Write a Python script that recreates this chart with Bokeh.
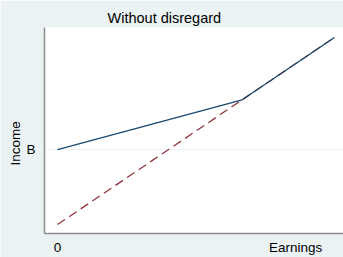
from bokeh.plotting import figure
from bokeh.models import Range1d, FixedTicker, Title
from bokeh.embed import file_html
from bokeh.resources import INLINE

# Data
earnings = [0, 2, 3]
income_with_benefit = [1.2, 2, 3]   # solid: starts at B
income_no_benefit = [0, 2, 3]       # dashed: earnings only
B = 1.2
x_ticks = [0, 2.58]
x_tick_labels = ["0", "Earnings"]
y_ticks = [B]
y_tick_labels = ["B"]
title_text = "Without disregard"
ylabel_text = "Income"

FONT = "Liberation Sans"
BG = "#EAF2F3"

p = figure(width=343, height=257, output_backend="svg", toolbar_location=None,
           x_range=Range1d(-0.141, 3.098), y_range=Range1d(-0.143, 3.159),
           min_border_left=44, min_border_right=0, min_border_top=27, min_border_bottom=22)
p.border_fill_color = BG
p.background_fill_color = "white"
p.outline_line_color = None

p.line(earnings, income_no_benefit, line_color="#90353B", line_width=1.3, line_dash="9 5")
p.line(earnings, income_with_benefit, line_color="#1A476F", line_width=1.3)

p.xaxis.ticker = FixedTicker(ticks=x_ticks)
p.xaxis.major_label_overrides = {x_ticks[i]: x_tick_labels[i] for i in range(len(x_ticks))}
p.yaxis.ticker = FixedTicker(ticks=y_ticks)
p.yaxis.major_label_overrides = {y_ticks[i]: y_tick_labels[i] for i in range(len(y_ticks))}
p.yaxis.major_label_orientation = "horizontal"

for ax in (p.xaxis, p.yaxis):
    ax.axis_line_color = "#8c8c8c"
    ax.axis_line_width = 1.5
    ax.major_tick_in = 0
    ax.major_tick_out = 0
    ax.minor_tick_line_color = None
    ax.major_label_text_font = FONT
    ax.major_label_text_font_size = "13.5px"
    ax.major_label_text_color = "black"
p.xaxis.major_label_standoff = 6
p.yaxis.major_label_standoff = 9

p.xgrid.grid_line_color = None
p.ygrid.grid_line_color = BG
p.ygrid.grid_line_width = 1

p.title.text = title_text
p.title.align = "left"
p.title.offset = 63
p.title.text_font = FONT
p.title.text_font_size = "14.5px"
p.title.text_font_style = "normal"
p.title.text_color = "black"
p.title.standoff = 4

p.add_layout(Title(text=ylabel_text, align="left", offset=68, text_font=FONT,
                   text_font_size="13.5px", text_font_style="normal",
                   text_color="black", standoff=2), "left")

open("out.html", "w").write(file_html(p, INLINE))
